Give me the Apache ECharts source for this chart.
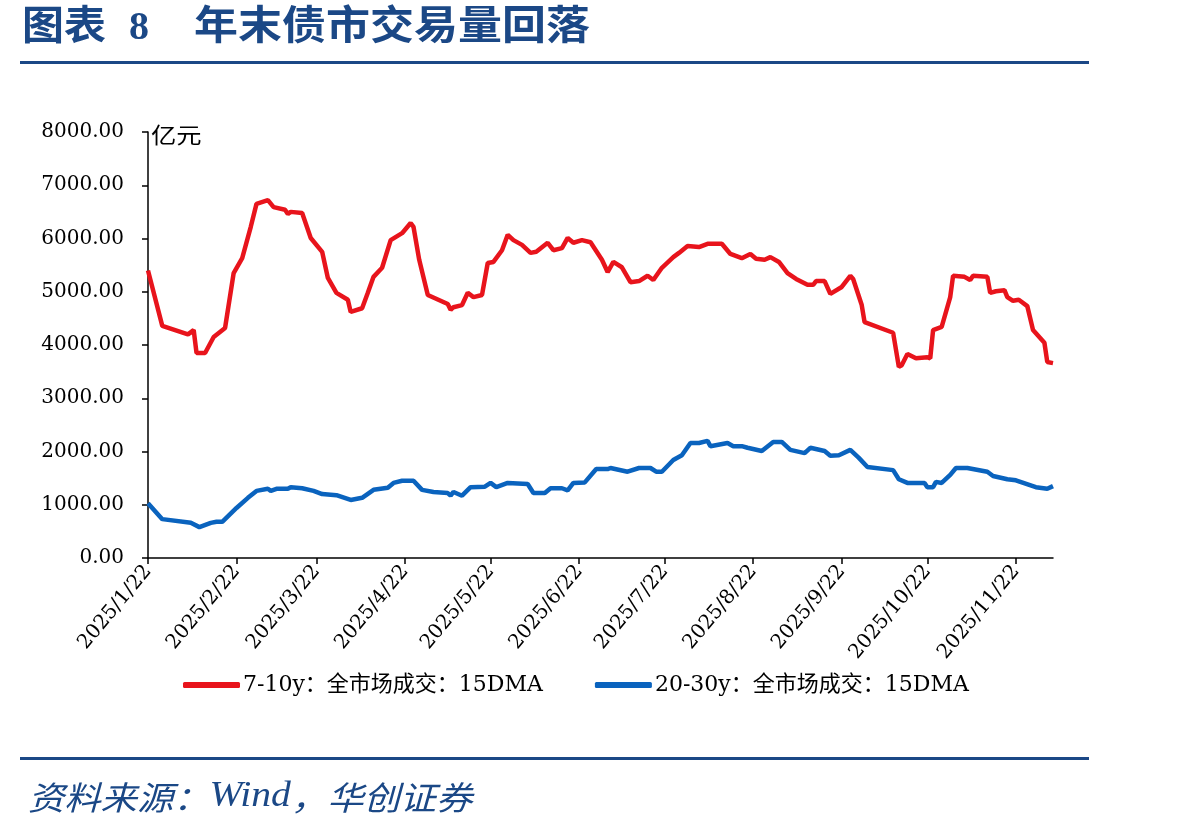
<!DOCTYPE html>
<html>
<head>
<meta charset="utf-8">
<title>图表 8 年末债市交易量回落</title>
<script src="https://cdn.jsdelivr.net/npm/echarts@6/dist/echarts.min.js"></script>
<style>
html, body { margin: 0; padding: 0; background: #fff; }
#main { width: 1198px; height: 833px; }
</style>
</head>
<body>
<div id="main"></div>
<script>
// 7-10y：全市场成交：15DMA
var redDates = ['2025/1/22','2025/1/27','2025/2/5','2025/2/7','2025/2/8','2025/2/11','2025/2/14','2025/2/18','2025/2/21','2025/2/24','2025/2/27','2025/3/1','2025/3/5','2025/3/7','2025/3/11','2025/3/12','2025/3/13','2025/3/17','2025/3/20','2025/3/24','2025/3/26','2025/3/29','2025/4/2','2025/4/3','2025/4/7','2025/4/9','2025/4/11','2025/4/14','2025/4/17','2025/4/21','2025/4/24','2025/4/25','2025/4/27','2025/4/30','2025/5/7','2025/5/8','2025/5/9','2025/5/12','2025/5/14','2025/5/16','2025/5/19','2025/5/21','2025/5/23','2025/5/26','2025/5/28','2025/5/30','2025/6/2','2025/6/5','2025/6/7','2025/6/11','2025/6/13','2025/6/16','2025/6/18','2025/6/20','2025/6/23','2025/6/26','2025/6/30','2025/7/2','2025/7/4','2025/7/7','2025/7/10','2025/7/13','2025/7/16','2025/7/18','2025/7/21','2025/7/25','2025/7/27','2025/7/30','2025/8/3','2025/8/6','2025/8/11','2025/8/14','2025/8/18','2025/8/21','2025/8/23','2025/8/26','2025/8/28','2025/8/31','2025/9/3','2025/9/6','2025/9/10','2025/9/12','2025/9/13','2025/9/16','2025/9/18','2025/9/22','2025/9/25','2025/9/26','2025/9/29','2025/9/30','2025/10/10','2025/10/12','2025/10/13','2025/10/15','2025/10/18','2025/10/22','2025/10/23','2025/10/24','2025/10/27','2025/10/30','2025/10/31','2025/11/4','2025/11/6','2025/11/7','2025/11/12','2025/11/13','2025/11/15','2025/11/18','2025/11/19','2025/11/21','2025/11/23','2025/11/26','2025/11/28','2025/12/2','2025/12/3','2025/12/5'];
var redValues = [5400,4360,4200,4280,3850,3850,4150,4320,5350,5630,6220,6650,6720,6590,6540,6460,6500,6480,6010,5750,5260,4980,4850,4620,4690,4980,5280,5450,5970,6100,6290,6220,5600,4940,4770,4660,4710,4750,4980,4900,4940,5540,5560,5780,6070,5970,5880,5730,5750,5920,5780,5820,6010,5920,5970,5930,5600,5370,5560,5460,5180,5200,5300,5220,5450,5650,5730,5860,5840,5900,5900,5710,5630,5710,5620,5600,5650,5560,5350,5240,5130,5130,5200,5200,4960,5090,5300,5240,4750,4430,4230,3590,3620,3830,3750,3770,3750,4280,4340,4900,5300,5280,5220,5300,5280,4980,5010,5030,4900,4830,4850,4730,4280,4040,3680,3660];

// 20-30y：全市场成交：15DMA
var blueDates = ['2025/1/22','2025/1/27','2025/2/6','2025/2/9','2025/2/13','2025/2/15','2025/2/17','2025/2/22','2025/2/26','2025/3/1','2025/3/5','2025/3/6','2025/3/8','2025/3/12','2025/3/13','2025/3/17','2025/3/21','2025/3/24','2025/3/29','2025/4/3','2025/4/7','2025/4/11','2025/4/16','2025/4/18','2025/4/21','2025/4/25','2025/4/28','2025/5/2','2025/5/7','2025/5/8','2025/5/9','2025/5/12','2025/5/15','2025/5/20','2025/5/22','2025/5/24','2025/5/28','2025/6/4','2025/6/6','2025/6/10','2025/6/12','2025/6/16','2025/6/18','2025/6/20','2025/6/24','2025/6/28','2025/7/2','2025/7/3','2025/7/9','2025/7/13','2025/7/17','2025/7/19','2025/7/21','2025/7/25','2025/7/28','2025/7/31','2025/8/3','2025/8/6','2025/8/7','2025/8/13','2025/8/15','2025/8/18','2025/8/20','2025/8/25','2025/8/29','2025/9/1','2025/9/4','2025/9/9','2025/9/11','2025/9/16','2025/9/18','2025/9/21','2025/9/25','2025/9/28','2025/10/1','2025/10/10','2025/10/12','2025/10/15','2025/10/21','2025/10/22','2025/10/24','2025/10/25','2025/10/27','2025/10/30','2025/11/1','2025/11/5','2025/11/12','2025/11/14','2025/11/19','2025/11/22','2025/11/29','2025/12/3','2025/12/5'];
var blueValues = [1030,730,660,580,660,680,680,940,1130,1260,1300,1260,1300,1300,1330,1310,1260,1200,1180,1090,1130,1280,1320,1410,1450,1450,1280,1240,1220,1170,1240,1170,1330,1340,1410,1330,1410,1390,1220,1220,1310,1310,1270,1410,1420,1670,1670,1690,1620,1690,1690,1620,1620,1840,1930,2160,2160,2200,2100,2160,2100,2100,2070,2010,2180,2180,2030,1970,2070,2010,1920,1930,2030,1880,1710,1650,1480,1410,1410,1330,1330,1430,1410,1560,1690,1690,1620,1540,1480,1460,1330,1300,1350];

var startDate = '2025/1/22';
var endDate = '2025/12/5';
var redName = '7-10y：全市场成交：15DMA';
var blueName = '20-30y：全市场成交：15DMA';

var titleBlue = '#1b4886';
var serif = '"DejaVu Serif", "Noto Sans CJK SC", serif';

// 日历日的横轴类目
var buildDays = function (from, to) {
    var p1 = from.split('/'), p2 = to.split('/');
    var d = new Date(+p1[0], +p1[1] - 1, +p1[2]);
    var end = new Date(+p2[0], +p2[1] - 1, +p2[2]);
    var out = [];
    while (d <= end) {
        out.push(d.getFullYear() + '/' + (d.getMonth() + 1) + '/' + d.getDate());
        d.setDate(d.getDate() + 1);
    }
    return out;
};

var pairUp = function (dates, values) {
    var arr = [];
    for (var i = 0; i < dates.length; i++) {
        arr.push([dates[i], values[i]]);
    }
    return arr;
};

var days = buildDays(startDate, endDate);
var on22 = function (index, value) {
    return /\/22$/.test(value);
};

var option = {
    animation: false,
    backgroundColor: '#fff',
    grid: {
        left: 148,
        right: 145,
        top: 132,
        bottom: 275
    },
    legend: {
        top: 669,
        left: 178,
        itemWidth: 57,
        itemHeight: 6,
        itemGap: 52,
        icon: 'roundRect',
        textStyle: {
            fontFamily: serif,
            fontSize: 22,
            color: '#000',
            padding: [0, 0, 0, -2]
        },
        data: [redName, blueName]
    },
    xAxis: {
        type: 'category',
        boundaryGap: false,
        data: days,
        axisLine: { lineStyle: { color: '#000', width: 1.5 } },
        axisTick: { interval: on22, length: 6, lineStyle: { color: '#000', width: 1.5 } },
        axisLabel: {
            interval: on22,
            rotate: 50,
            margin: 10,
            fontFamily: serif,
            fontSize: 20,
            color: '#000'
        },
        splitLine: { show: false }
    },
    yAxis: {
        type: 'value',
        min: 0,
        max: 8000,
        interval: 1000,
        axisLine: { show: true, lineStyle: { color: '#000', width: 1.5 } },
        axisTick: { show: true, length: 6, lineStyle: { color: '#000', width: 1.5 } },
        axisLabel: {
            margin: 24,
            fontFamily: serif,
            fontSize: 20,
            color: '#000',
            formatter: function (v) { return v.toFixed(2); }
        },
        splitLine: { show: false }
    },
    series: [
        {
            name: redName,
            type: 'line',
            data: pairUp(redDates, redValues),
            showSymbol: false,
            symbol: 'none',
            lineStyle: { color: '#e8141c', width: 4.5 },
            itemStyle: { color: '#e8141c' }
        },
        {
            name: blueName,
            type: 'line',
            data: pairUp(blueDates, blueValues),
            showSymbol: false,
            symbol: 'none',
            lineStyle: { color: '#0a63be', width: 4.5 },
            itemStyle: { color: '#0a63be' }
        }
    ],
    graphic: [
        {
            type: 'text',
            x: 22,
            y: 4,
            scaleX: 1.05,
            style: {
                text: '图表',
                fontFamily: '"Noto Sans CJK SC", sans-serif',
                fontWeight: 'bold',
                fontSize: 40,
                fill: titleBlue
            }
        },
        {
            type: 'text',
            x: 129,
            y: 9,
            style: {
                text: '8',
                fontFamily: '"Liberation Serif", serif',
                fontWeight: 'bold',
                fontSize: 40,
                fill: titleBlue
            }
        },
        {
            type: 'text',
            x: 194,
            y: 4,
            scaleX: 1.1,
            style: {
                text: '年末债市交易量回落',
                fontFamily: '"Noto Sans CJK SC", sans-serif',
                fontWeight: 'bold',
                fontSize: 40,
                fill: titleBlue
            }
        },
        {
            type: 'rect',
            shape: { x: 20, y: 61, width: 1069, height: 3 },
            style: { fill: titleBlue }
        },
        {
            type: 'text',
            x: 151,
            y: 124,
            scaleX: 1.15,
            style: {
                text: '亿元',
                fontFamily: '"Noto Sans CJK SC", sans-serif',
                fontSize: 22,
                fill: '#000'
            }
        },
        {
            type: 'rect',
            shape: { x: 20, y: 757, width: 1069, height: 3 },
            style: { fill: titleBlue }
        },
        {
            type: 'text',
            x: 28,
            y: 779,
            scaleX: 1.1,
            style: {
                text: '{a|资料来源：}{b|Wind}{a|，华创证券}',
                rich: {
                    a: {
                        fontFamily: '"Noto Sans CJK SC", sans-serif',
                        fontStyle: 'italic',
                        fontSize: 33,
                        fill: titleBlue
                    },
                    b: {
                        fontFamily: '"Liberation Serif", serif',
                        fontStyle: 'italic',
                        fontSize: 36,
                        fill: titleBlue
                    }
                }
            }
        }
    ]
};

var chart = echarts.init(document.getElementById('main'));
chart.setOption(option);
</script>
</body>
</html>
